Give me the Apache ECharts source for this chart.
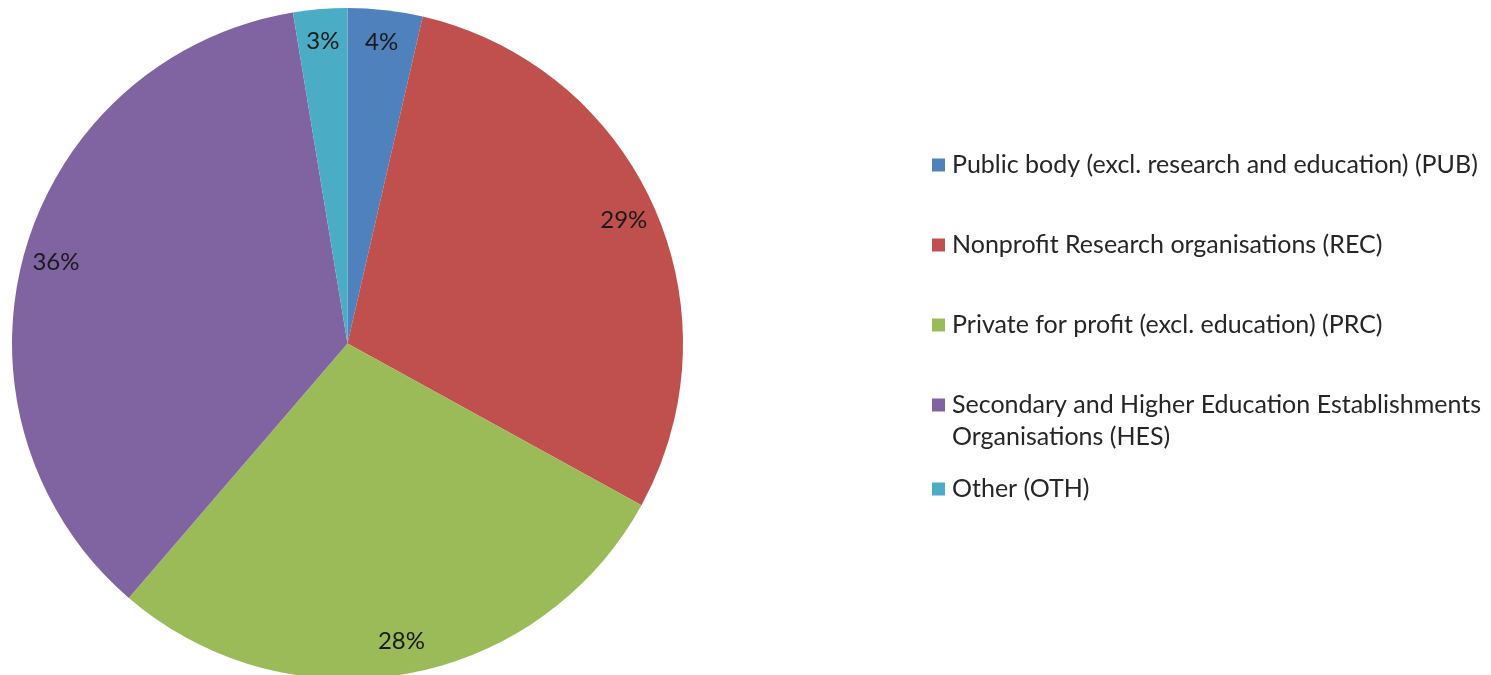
<!DOCTYPE html>
<html><head><meta charset="utf-8">
<script src="https://cdn.jsdelivr.net/npm/echarts@6/dist/echarts.min.js"></script>
<style>html,body{margin:0;padding:0;background:#fff}#c{width:1491px;height:675px}</style>
</head><body><div id="c"></div>
<script>
const categories = [
  'Public body (excl. research and education) (PUB)',
  'Nonprofit Research organisations (REC)',
  'Private for profit (excl. education) (PRC)',
  'Secondary and Higher Education Establishments Organisations (HES)',
  'Other (OTH)'
];
const values = [3.6, 29.4, 28.3, 36.1, 2.6];
const colors = ['#4F81BD', '#C0504D', '#9BBB59', '#8064A2', '#4BACC6'];

const FONT = 'Lato';
const legendCenters = [165, 245, 325, 405, 489];
const LH = 30;
const LFS = 25;

const data = categories.map((n, i) => ({ name: n, value: values[i], itemStyle: { color: colors[i] } }));
const labelData = categories.map((n, i) => ({ name: n, value: values[i] }));

const legends = categories.map((n, i) => ({
  data: [n],
  orient: 'vertical',
  left: 932,
  top: legendCenters[i] - LH / 2,
  padding: 0,
  itemWidth: 13,
  itemHeight: 13,
  itemGap: 0,
  icon: 'rect',
  selectedMode: false,
  formatter: (name) => name.startsWith('Secondary') ? 'Secondary and Higher Education Establishments' : name,
  textStyle: { fontFamily: FONT, fontSize: LFS, color: '#262626', lineHeight: LH, padding: [0, 0, 0, 2] }
}));

const chart = echarts.init(document.getElementById('c'));
chart.setOption({
  animation: false,
  legend: legends,
  graphic: [{
    type: 'text', left: 952, top: 437 - LH / 2,
    style: { text: 'Organisations (HES)', font: LFS + 'px ' + FONT, fill: '#262626', lineHeight: LH, height: LH, verticalAlign: 'top' }
  }],
  series: [{
    type: 'pie',
    center: [347.5, 343.5],
    radius: [0, 335.5],
    startAngle: 90,
    clockwise: true,
    avoidLabelOverlap: false,
    label: { show: false },
    labelLine: { show: false },
    emphasis: { disabled: true },
    data: data
  }, {
    type: 'pie',
    center: [347.5, 343.5],
    radius: [264, 335.5],
    startAngle: 90,
    clockwise: true,
    avoidLabelOverlap: false,
    silent: true,
    itemStyle: { color: 'rgba(0,0,0,0)' },
    label: {
      show: true, position: 'inside',
      formatter: (p) => Math.round(p.percent) + '%',
      fontFamily: FONT, fontSize: 24, color: '#1a1a1a'
    },
    labelLine: { show: false },
    emphasis: { disabled: true },
    data: labelData
  }]
});
</script></body></html>
